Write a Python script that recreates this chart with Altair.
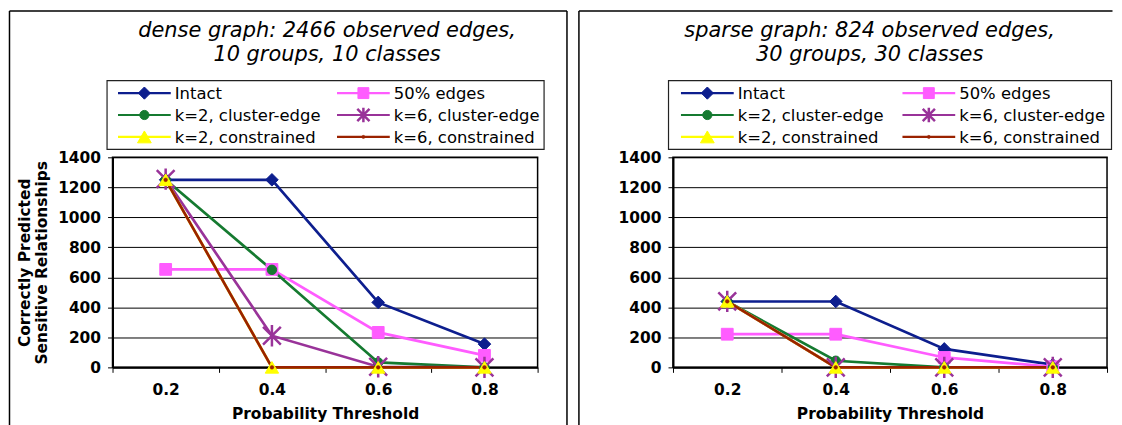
import altair as alt
import pandas as pd

# ---------------- data ----------------
thresholds = ["0.2", "0.4", "0.6", "0.8"]
series_names = ["Intact", "50% edges", "k=2, cluster-edge", "k=6, cluster-edge",
                "k=2, constrained", "k=6, constrained"]

dense_intact = [1250, 1250, 433, 155]
dense_half = [653, 653, 233, 80]
dense_k2_cluster = [1250, 650, 33, 0]
dense_k6_cluster = [1255, 211, 4, 0]
dense_k2_constrained = [1250, 0, 0, 0]
dense_k6_constrained = [1250, 0, 0, 0]

sparse_intact = [439, 439, 123, 18]
sparse_half = [221, 221, 66, 4]
sparse_k2_cluster = [439, 44, 0, 0]
sparse_k6_cluster = [440, 0, 0, 0]
sparse_k2_constrained = [440, 0, 0, 0]
sparse_k6_constrained = [440, 0, 0, 0]

dense_title = ["dense graph: 2466 observed edges,", "10 groups, 10 classes"]
sparse_title = ["sparse graph: 824 observed edges,", "30 groups, 30 classes"]
y_title = ["Correctly Predicted", "Sensitive Relationships"]
x_title = "Probability Threshold"
y_ticks = [0, 200, 400, 600, 800, 1000, 1200, 1400]

# ---------------- styles ----------------
series_colors = ["#0D1E8E", "#FF5CFF", "#157A30", "#993399", "#FFFF00", "#9A2200"]
ASTER = "M-1,-1L1,1M-1,1L1,-1M0,-1.2L0,1.2"
plot_marks = [("diamond", 160, 1), ("square", 140, 1), ("circle", 90, 1),
              (ASTER, 320, 2.5), ("triangle-up", 180, 1), ("circle", 14, 0.5)]
key_marks = [("diamond", 150, 1), ("square", 120, 1), ("circle", 85, 1),
             (ASTER, 150, 2.5), ("triangle-up", 190, 1), ("circle", 10, 0.5)]

FONT = "DejaVu Sans"


def long_df(cols):
    rows = []
    for s, vals in zip(series_names, cols):
        for t, v in zip(thresholds, vals):
            rows.append({"t": t, "series": s, "v": v})
    return pd.DataFrame(rows)


def panel(cols, title_lines, width, height, frame_x, frame_x2, right_edge, title_cx,
          key_box, key_cols, ytitle):
    df = long_df(cols)
    one = pd.DataFrame({"k": [0]})
    base = alt.Chart(one)
    x = alt.X("t:O", sort=thresholds, bandPosition=0.5,
              scale=alt.Scale(type="band", domain=thresholds,
                              paddingInner=0, paddingOuter=0),
              axis=alt.Axis(title=x_title, labelAngle=0, tickBand="extent",
                            tickSize=5, labelPadding=10, titlePadding=9,
                            grid=False))
    y = alt.Y("v:Q", scale=alt.Scale(domain=[0, 1400], nice=False),
              axis=alt.Axis(values=y_ticks, format="d", title=ytitle,
                            tickSize=5, labelPadding=7, titlePadding=8,
                            grid=True, titleLineHeight=17))
    top = -147
    layers = [
        base.mark_rule(stroke="black", strokeWidth=1.5).encode(
            x=alt.value(frame_x), x2=alt.value(frame_x2), y=alt.value(top)),
        base.mark_rule(stroke="black", strokeWidth=1.5).encode(
            x=alt.value(frame_x), y=alt.value(top), y2=alt.value(height + 75)),
    ]
    if right_edge:
        layers.append(base.mark_rule(stroke="black", strokeWidth=1.5).encode(
            x=alt.value(frame_x2), y=alt.value(top), y2=alt.value(height + 75)))
    for i, line in enumerate(title_lines):
        layers.append(base.mark_text(
            font=FONT, fontStyle="italic", fontSize=21, align="center",
            baseline="alphabetic", color="black").encode(
            x=alt.value(title_cx), y=alt.value(-121 + 24 * i), text=alt.value(line)))

    # key box (two columns, three rows), entries taken from the series arrays
    bx0, bx1, by0, by1 = key_box
    layers.append(base.mark_rect(fill="white", stroke="#222222", strokeWidth=1.2).encode(
        x=alt.value(bx0), x2=alt.value(bx1), y=alt.value(by0), y2=alt.value(by1)))
    row_y = [-64.5, -42.5, -20.5]
    for i, (name, colr, (shape, size, sw)) in enumerate(zip(series_names, series_colors, key_marks)):
        lx0 = key_cols[i % 2]
        yc = row_y[i // 2]
        layers.append(base.mark_rule(stroke=colr, strokeWidth=2.2).encode(
            x=alt.value(lx0), x2=alt.value(lx0 + 53), y=alt.value(yc)))
        layers.append(base.mark_point(shape=shape, size=size, filled=True, fill=colr,
                                      stroke=colr, strokeWidth=sw, opacity=1).encode(
            x=alt.value(lx0 + 26.5), y=alt.value(yc)))
        layers.append(base.mark_text(font=FONT, fontSize=16.5, align="left", baseline="middle",
                                     color="black").encode(
            x=alt.value(lx0 + 57), y=alt.value(yc + 1), text=alt.value(name)))

    layers.append(alt.Chart(df).mark_line(strokeWidth=2.7).encode(
        x=x, y=y,
        color=alt.Color("series:N", scale=alt.Scale(domain=series_names, range=series_colors),
                        legend=None)))
    for name, colr, (shape, size, sw) in zip(series_names, series_colors, plot_marks):
        layers.append(
            alt.Chart(df).transform_filter(alt.datum.series == name).mark_point(
                shape=shape, size=size, filled=True, fill=colr, stroke=colr,
                strokeWidth=sw, opacity=1).encode(x=x, y=y))
    return alt.layer(*layers).properties(width=width, height=height)


left = panel([dense_intact, dense_half, dense_k2_cluster, dense_k6_cluster,
              dense_k2_constrained, dense_k6_constrained],
             dense_title, 427, 211, -103.5, 456.5, True, 215.5,
             (-5.5, 433.5, -77, -8), (5.5, 225.5), y_title)
right = panel([sparse_intact, sparse_half, sparse_k2_cluster, sparse_k6_cluster,
               sparse_k2_constrained, sparse_k6_constrained],
              sparse_title, 436, 211, -94.5, 441.5, False, 197.5,
              (-4.5, 440.5, -77, -8), (8, 230.5), None)

chart = alt.hconcat(left, right, spacing=9).resolve_scale(
    color="independent"
).configure_view(
    stroke="black", strokeWidth=1.5
).configure_axis(
    labelFont=FONT, labelFontWeight="bold", labelFontSize=15.5, labelColor="black",
    titleFont=FONT, titleFontWeight="bold", titleFontSize=15.5, titleColor="black",
    domainColor="black", domainWidth=2, tickColor="black", tickWidth=1,
    gridColor="black", gridWidth=1, gridOpacity=1
).properties(background="white", padding=0)

chart.save("out.html", embed_options={"renderer": "svg", "actions": False})
